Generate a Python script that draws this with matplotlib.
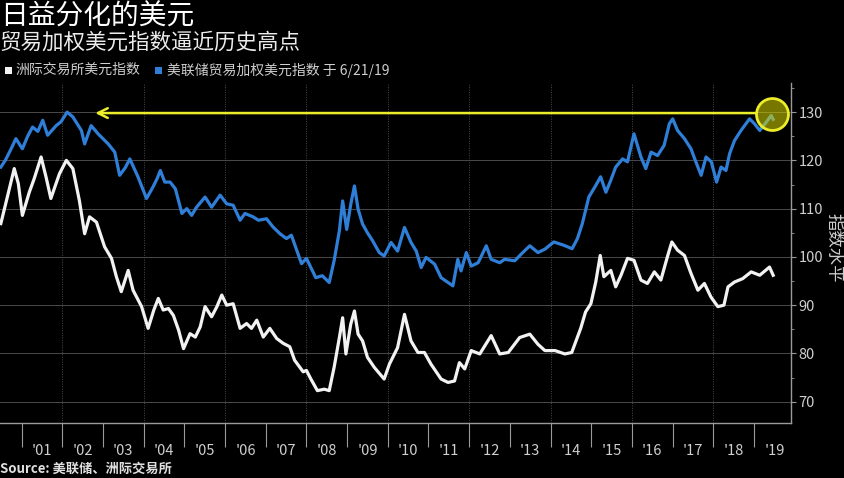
import matplotlib
matplotlib.use('Agg')
import matplotlib.pyplot as plt
from matplotlib.patches import Rectangle
from matplotlib.ticker import FixedLocator, NullFormatter, FixedFormatter, MultipleLocator
import numpy as np

# -------------------------- 字体 --------------------------
plt.rcParams['font.family'] = ['Noto Sans CJK SC', 'DejaVu Sans']
plt.rcParams['axes.unicode_minus'] = False

# -------------------------- 数据 --------------------------
# 美联储贸易加权美元指数（年份小数, 指数）
fed_year = [2000.49, 2000.60, 2000.75, 2000.86, 2001.02, 2001.15, 2001.27, 2001.40, 2001.52, 2001.64,
            2001.85, 2001.97, 2002.12, 2002.26, 2002.47, 2002.55, 2002.71, 2002.88, 2003.13, 2003.29,
            2003.41, 2003.55, 2003.66, 2003.86, 2004.07, 2004.23, 2004.33, 2004.41, 2004.52, 2004.65,
            2004.78, 2004.94, 2005.06, 2005.18, 2005.30, 2005.51, 2005.67, 2005.88, 2006.04, 2006.20,
            2006.37, 2006.49, 2006.69, 2006.82, 2007.02, 2007.18, 2007.35, 2007.51, 2007.63, 2007.76,
            2007.88, 2008.00, 2008.11, 2008.23, 2008.39, 2008.56, 2008.68, 2008.81, 2008.89, 2008.99,
            2009.09, 2009.18, 2009.27, 2009.38, 2009.50, 2009.63, 2009.79, 2009.91, 2010.08, 2010.24,
            2010.41, 2010.57, 2010.70, 2010.82, 2010.94, 2011.15, 2011.31, 2011.43, 2011.60, 2011.72,
            2011.80, 2011.93, 2012.05, 2012.22, 2012.42, 2012.54, 2012.75, 2012.87, 2013.12, 2013.28,
            2013.49, 2013.69, 2013.86, 2014.08, 2014.33, 2014.53, 2014.66, 2014.78, 2014.94, 2015.11,
            2015.23, 2015.36, 2015.48, 2015.60, 2015.77, 2015.89, 2016.05, 2016.22, 2016.34, 2016.47,
            2016.63, 2016.79, 2016.92, 2017.00, 2017.12, 2017.29, 2017.45, 2017.57, 2017.70, 2017.82,
            2017.95, 2018.08, 2018.19, 2018.31, 2018.40, 2018.52, 2018.68, 2018.89, 2019.01, 2019.14,
            2019.30, 2019.42, 2019.47]
fed_index = [118.6, 120.0, 122.5, 124.5, 122.4, 125.0, 126.9, 126.0, 128.3, 125.2,
             127.2, 128.0, 130.0, 129.0, 126.2, 123.4, 127.2, 125.5, 123.4, 121.7,
             116.9, 118.5, 120.3, 116.6, 112.1, 114.5, 116.2, 117.9, 115.5, 115.5,
             114.1, 109.0, 110.0, 108.6, 110.3, 112.4, 110.3, 112.8, 111.0, 110.7,
             107.6, 109.0, 108.3, 107.6, 107.9, 106.2, 104.8, 103.8, 104.5, 101.4,
             98.6, 99.7, 97.8, 95.7, 96.1, 94.7, 99.2, 105.4, 111.6, 105.7,
             110.9, 114.7, 109.9, 106.8, 105.0, 103.3, 100.9, 100.2, 103.0, 101.2,
             106.1, 103.0, 101.2, 97.8, 99.9, 98.5, 95.7, 95.0, 94.0, 99.5,
             97.1, 100.9, 98.1, 98.8, 102.3, 99.5, 98.8, 99.5, 99.2, 100.6,
             102.3, 100.9, 101.6, 103.1, 102.4, 101.7, 103.8, 106.9, 112.4, 114.8,
             116.6, 113.4, 115.9, 118.6, 120.3, 119.7, 125.5, 120.7, 118.3, 121.7,
             121.0, 123.1, 127.6, 128.6, 126.2, 124.5, 122.4, 119.7, 116.9, 120.7,
             119.7, 115.5, 118.6, 117.9, 121.4, 124.1, 126.2, 128.6, 127.6, 126.2,
             127.9, 129.3, 128.5]

# 洲际交易所美元指数
ice_year = [2000.49, 2000.65, 2000.82, 2000.92, 2001.02, 2001.19, 2001.31, 2001.48, 2001.60, 2001.72,
            2001.93, 2002.10, 2002.26, 2002.42, 2002.55, 2002.67, 2002.84, 2003.04, 2003.21, 2003.33,
            2003.45, 2003.62, 2003.74, 2003.95, 2004.11, 2004.25, 2004.36, 2004.48, 2004.61, 2004.73,
            2004.86, 2004.98, 2005.14, 2005.27, 2005.39, 2005.51, 2005.67, 2005.80, 2005.92, 2006.04,
            2006.20, 2006.37, 2006.53, 2006.65, 2006.78, 2006.94, 2007.10, 2007.27, 2007.43, 2007.59,
            2007.71, 2007.92, 2008.00, 2008.11, 2008.27, 2008.44, 2008.56, 2008.68, 2008.81, 2008.89,
            2008.97, 2009.09, 2009.18, 2009.27, 2009.38, 2009.50, 2009.67, 2009.91, 2010.04, 2010.24,
            2010.41, 2010.57, 2010.74, 2010.90, 2011.06, 2011.31, 2011.48, 2011.64, 2011.76, 2011.89,
            2012.05, 2012.26, 2012.54, 2012.75, 2012.96, 2013.24, 2013.49, 2013.69, 2013.86, 2014.11,
            2014.35, 2014.52, 2014.74, 2014.86, 2014.99, 2015.11, 2015.22, 2015.31, 2015.48, 2015.60,
            2015.73, 2015.89, 2016.05, 2016.22, 2016.38, 2016.55, 2016.71, 2016.88, 2016.98, 2017.12,
            2017.29, 2017.45, 2017.62, 2017.78, 2017.94, 2018.11, 2018.26, 2018.36, 2018.52, 2018.72,
            2018.93, 2019.14, 2019.38, 2019.47]
ice_index = [106.9, 112.4, 118.3, 115.2, 108.6, 113.4, 116.2, 120.7, 116.6, 112.1,
             117.2, 120.0, 118.3, 111.7, 104.8, 108.3, 107.2, 102.1, 99.7, 95.9,
             92.8, 97.2, 93.1, 89.7, 85.2, 89.0, 91.4, 89.0, 89.3, 87.9,
             84.8, 81.0, 84.1, 83.4, 85.5, 89.7, 87.6, 89.7, 92.1, 90.0,
             90.3, 85.2, 86.2, 85.2, 86.9, 83.4, 85.2, 83.1, 82.1, 81.4,
             78.6, 76.2, 76.5, 74.7, 72.3, 72.6, 72.3, 77.1, 83.3, 87.4,
             79.9, 86.1, 88.8, 84.0, 82.6, 79.2, 77.1, 74.7, 77.8, 81.2,
             88.1, 82.6, 80.2, 80.2, 77.8, 74.7, 74.0, 74.3, 78.1, 76.8,
             80.6, 79.9, 83.7, 79.9, 80.2, 83.3, 84.0, 81.9, 80.6, 80.6,
             79.9, 80.2, 85.2, 88.6, 90.3, 94.8, 100.3, 95.9, 97.2, 93.8,
             96.2, 99.7, 99.3, 95.2, 94.5, 96.9, 95.2, 100.3, 103.1, 101.4,
             100.3, 96.6, 93.1, 94.5, 91.7, 89.7, 90.0, 93.8, 94.8, 95.5,
             96.9, 96.2, 97.9, 96.2]

years = list(range(2001, 2020))
year_labels = ["'%02d" % (y % 100) for y in years]
y_ticks = [70, 80, 90, 100, 110, 120, 130]

# 标注位置
highlight = (2019.45, 129.7)
arrow_head_x = 2002.81
arrow_tail_x = 2019.07

# -------------------------- 颜色 --------------------------
BG = '#000000'
BLUE = '#2f7fd8'
WHITE = '#f2f2f2'
YELLOW = '#ecec2a'
GRID = '#4a4a4a'
AXIS = '#9a9a9a'
TXT = '#cfcfcf'

fig = plt.figure(figsize=(8.45, 4.78), dpi=100, facecolor=BG)
ax = fig.add_axes([0.0, 0.1151, 0.9357, 0.711], facecolor=BG)

ax.plot(ice_year, ice_index, color=WHITE, lw=2.3, zorder=3)
ax.plot(fed_year, fed_index, color=BLUE, lw=2.3, zorder=3)

ax.set_xlim(2000.47, 2019.9)
ax.set_ylim(65.6, 136.0)

# 网格
for y in y_ticks:
    ax.axhline(y, color=GRID, lw=0.7, zorder=1)
for yr in range(2002, 2019, 2):
    ax.axvline(yr, color=GRID, lw=0.7, ls=(0, (1, 1.5)), zorder=1)

# 坐标轴
for s in ['left', 'top']:
    ax.spines[s].set_visible(False)
for s in ['right', 'bottom']:
    ax.spines[s].set_color(AXIS)
    ax.spines[s].set_linewidth(1.0)

ax.yaxis.tick_right()
ax.set_yticks(y_ticks)
ax.yaxis.set_minor_locator(MultipleLocator(5))
ax.tick_params(axis='y', which='major', direction='out', length=3.5, width=0.8,
               colors=AXIS, labelcolor=TXT, labelsize=10.5, pad=2)
ax.tick_params(axis='y', which='minor', direction='out', length=2, width=0.6, colors=AXIS)

ax.xaxis.set_major_locator(FixedLocator(years))
ax.xaxis.set_major_formatter(NullFormatter())
ax.xaxis.set_minor_locator(FixedLocator([y + 0.5 for y in years]))
ax.xaxis.set_minor_formatter(FixedFormatter(year_labels))
ax.tick_params(axis='x', which='major', direction='out', length=17, width=0.8, colors=AXIS)
ax.tick_params(axis='x', which='minor', length=0, labelcolor=TXT, labelsize=10.5, pad=15)

# 黄色箭头与圆圈
ax.annotate('', xy=(arrow_head_x, 129.8), xytext=(arrow_tail_x, 129.8),
            arrowprops=dict(arrowstyle='->,head_length=0.7,head_width=0.35',
                            color=YELLOW, lw=1.8, shrinkA=0, shrinkB=0), zorder=4)
ax.plot(*highlight, 'o', ms=23, mfc=(0.85, 0.85, 0.0, 0.55), mec=YELLOW, mew=2, zorder=5)

# 标题
fig.text(0.0, 1 - 16.5 / 478, '日益分化的美元', fontsize=20, color='white', ha='left', va='center')
fig.text(0.0, 1 - 43 / 478, '贸易加权美元指数逼近历史高点', fontsize=15.5, color='#ececec',
         ha='left', va='center')

# 图例
fig.patches.append(Rectangle((5 / 845, 1 - 74 / 478), 7 / 845, 7 / 478, transform=fig.transFigure,
                             facecolor=WHITE, edgecolor='none'))
fig.text(15 / 845, 1 - 70 / 478, '洲际交易所美元指数', fontsize=10, color=TXT, ha='left', va='center')
fig.patches.append(Rectangle((155 / 845, 1 - 74 / 478), 7 / 845, 7 / 478, transform=fig.transFigure,
                             facecolor=BLUE, edgecolor='none'))
fig.text(167 / 845, 1 - 70 / 478, '美联储贸易加权美元指数 于 6/21/19', fontsize=10, color=TXT,
         ha='left', va='center')

# 右侧轴标题
fig.text(834 / 845, 1 - 248 / 478, '指数水平', fontsize=12.5, color=TXT, rotation=270,
         ha='center', va='center')

# 来源
fig.text(0.0, 1 - 469 / 478, 'Source: 美联储、洲际交易所', fontsize=9.5, color='#e0e0e0',
         fontweight='bold', ha='left', va='center')

fig.savefig('out.png', dpi=100, facecolor=BG)
